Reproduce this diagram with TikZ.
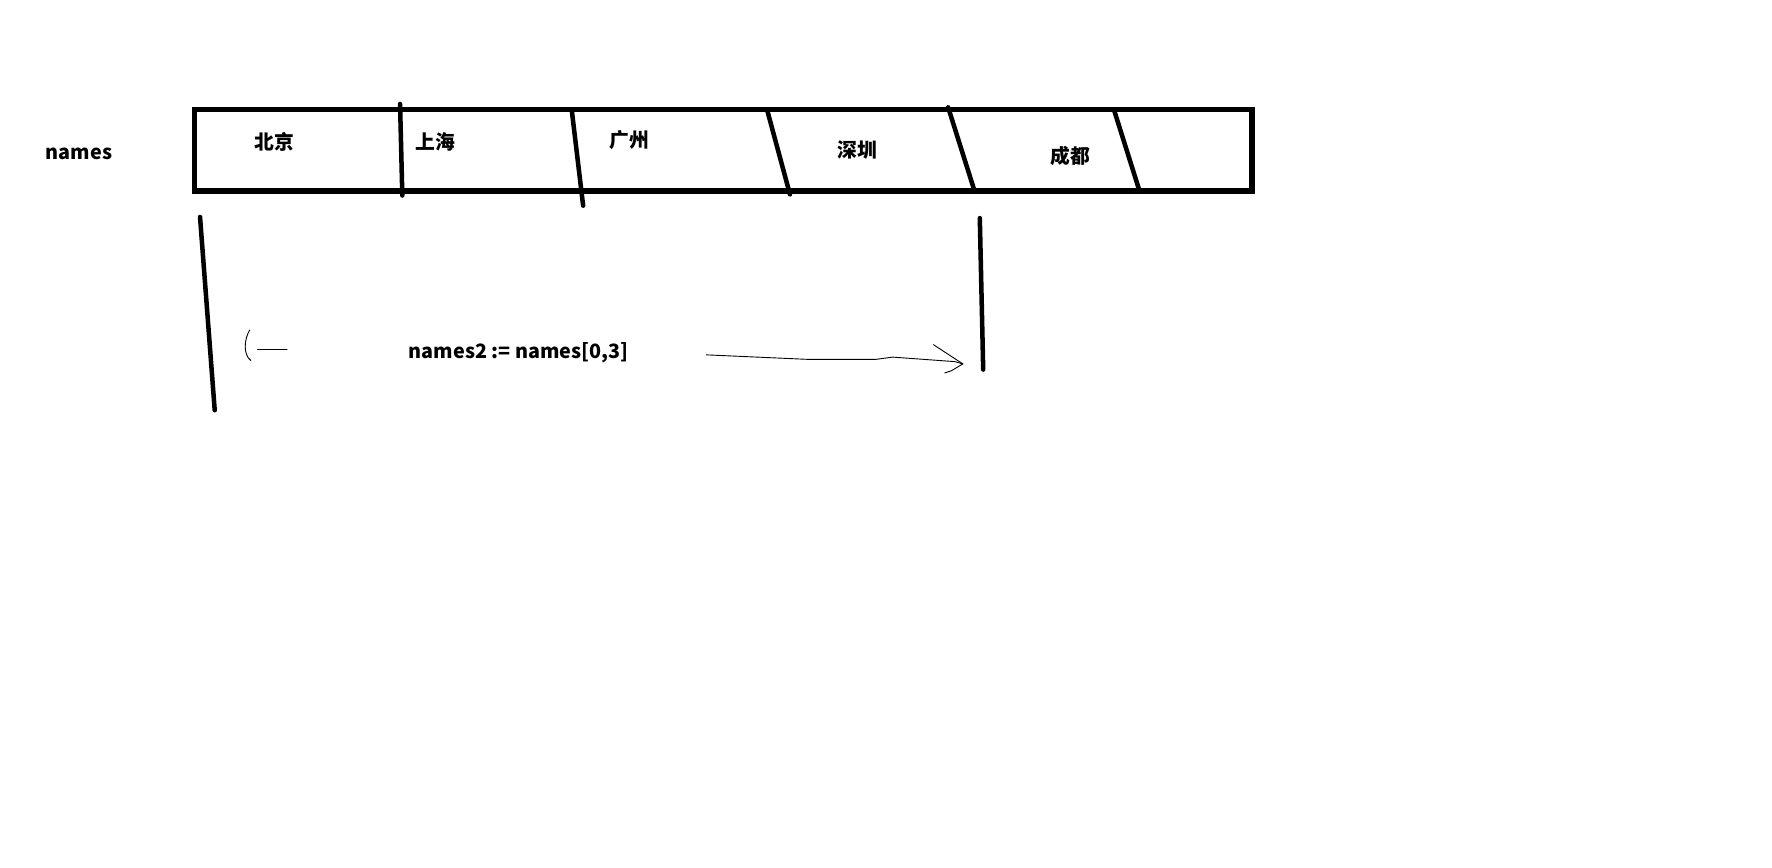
\documentclass[tikz,border=0pt]{standalone}
\usepackage{fontspec}
\newfontfamily\cjk{Noto Sans CJK SC}
\begin{document}
\begin{tikzpicture}[x=1pt,y=-1pt,
        city/.style={font=\cjk\bfseries\fontsize{17.5}{17.5}\selectfont, inner sep=0pt},
        cut/.style={line width=4pt, line cap=round},
        hand/.style={line width=0.8pt, line cap=round, line join=round}]

        \useasboundingbox (0,0) rectangle (1568,768);

        % Draw the array box and its name
        \draw[line width=5pt] (172,97) rectangle (1108,169);
        \node[city] (names) at (70,136) {names};

        % Loop to draw the hand-drawn cuts between the slots
        \foreach \xt/\yt/\xb/\yb [count=\i] in {354/92/356/173, 506/98/516/182, 679/98/699/172, 839/95/862/168, 986/98/1008/168} {
            \coordinate (T\i) at (\xt,\yt);
            \coordinate (B\i) at (\xb,\yb);
            \draw[cut] (T\i) -- (B\i);
        }

        % Loop to put the cities in the slots
        \foreach \name/\x/\y [count=\i] in {北京/243/126, 上海/385/126, 广州/557/124, 深圳/759/133, 成都/947/138} {
            \node[city] (C\i) at (\x,\y) {\name};
        }

        % Bounds of the slice
        \coordinate (L1) at (177,192);
        \coordinate (L2) at (190,363);
        \coordinate (R1) at (867,193);
        \coordinate (R2) at (870,327);
        \draw[cut] (L1) -- (L2);
        \draw[cut] (R1) -- (R2);

        % The slice expression with its two arrows
        \node[city] (slice) at (459,312) {names2 := names[0,3]};
        \coordinate (AL) at (228,309);
        \coordinate (AR) at (852,322);
        \draw[hand] (221,292) .. controls (216,300) and (215,314) .. (222,319);
        \draw[hand] (AL) -- (254,309);
        \draw[hand] (625,314) -- (715,318) -- (775,318) -- (790,316) -- (845,320) -- (AR);
        \draw[hand] (826,305) -- (AR) -- (842,328) -- (836,330);

\end{tikzpicture}
\end{document}
